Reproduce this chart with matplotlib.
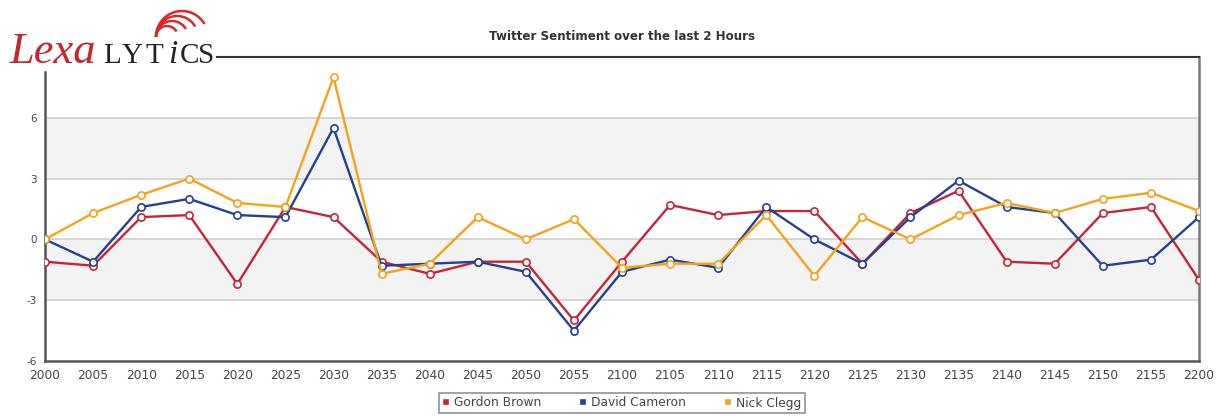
import numpy as np
import matplotlib.pyplot as plt
from matplotlib.patches import Arc

# временные метки (категории по оси X)
times = ['2000', '2005', '2010', '2015', '2020', '2025', '2030', '2035', '2040',
         '2045', '2050', '2055', '2100', '2105', '2110', '2115', '2120', '2125',
         '2130', '2135', '2140', '2145', '2150', '2155', '2200']

gordon_brown = [-1.1, -1.3, 1.1, 1.2, -2.2, 1.6, 1.1, -1.1, -1.7, -1.1, -1.1, -4.0, -1.1,
                1.7, 1.2, 1.4, 1.4, -1.2, 1.3, 2.4, -1.1, -1.2, 1.3, 1.6, -2.0]
david_cameron = [0.0, -1.1, 1.6, 2.0, 1.2, 1.1, 5.5, -1.3, -1.2, -1.1, -1.6, -4.5, -1.6,
                 -1.0, -1.4, 1.6, 0.0, -1.2, 1.1, 2.9, 1.6, 1.3, -1.3, -1.0, 1.1]
nick_clegg = [0.0, 1.3, 2.2, 3.0, 1.8, 1.6, 8.0, -1.7, -1.2, 1.1, 0.0, 1.0, -1.4,
              -1.2, -1.2, 1.2, -1.8, 1.1, 0.0, 1.2, 1.8, 1.3, 2.0, 2.3, 1.4]

y_ticks = [-6, -3, 0, 3, 6]

W, H = 1223, 416
fig = plt.figure(figsize=(W / 100, H / 100), dpi=100)
fig.patch.set_facecolor('white')

ax = fig.add_axes([45 / W, 1 - 361 / H, (1199 - 45) / W, (361 - 57) / H])
x = np.arange(len(times))

# серые полосы и сетка
ax.axhspan(3, 6, color='#f3f3f3', zorder=0)
ax.axhspan(-3, 0, color='#f3f3f3', zorder=0)
for t in y_ticks[1:]:
    ax.axhline(t, color='#cfcfcf', lw=1.2, zorder=1)

series = [
    ('Gordon Brown', gordon_brown, '#c2253a'),
    ('David Cameron', david_cameron, '#25408f'),
    ('Nick Clegg', nick_clegg, '#f2a31b'),
]
for name, vals, col in series:
    ax.plot(x, vals, color=col, lw=1.7, marker='o', ms=5.2, mfc='white',
            mec=col, mew=1.2, zorder=3, label=name)

ax.set_xlim(0, len(times) - 1)
ax.set_ylim(-6, 9)
ax.set_xticks(x)
ax.set_xticklabels(times, fontsize=8.8, color='#444444')
ax.set_yticks(y_ticks)
ax.set_yticklabels([str(t) for t in y_ticks], fontsize=7.5, color='#444444')
ax.tick_params(length=0, pad=6)

for s in ['left', 'bottom', 'right', 'top']:
    ax.spines[s].set_color('#555555')
    ax.spines[s].set_linewidth(1.8)
ax.spines['right'].set_color('#777777')
ax.spines['left'].set_bounds(-6, 8.25)
ax.spines['top'].set_bounds((217 - 45) / ((1199 - 45) / 24), 24)
ax.spines['top'].set_color('#333333')
ax.spines['top'].set_linewidth(1.5)

fig.text(622 / W, 1 - 36 / H, 'Twitter Sentiment over the last 2 Hours',
         ha='center', va='center', fontsize=8.6, fontweight='bold', color='#333333')

leg = ax.legend(loc='center', bbox_to_anchor=(622 / W, 1 - 403 / H),
                bbox_transform=fig.transFigure, ncol=3, frameon=True,
                fontsize=8.8, handlelength=0.5, handletextpad=0.4,
                columnspacing=3.2, borderpad=0.3, fancybox=False)
for h in leg.legend_handles:
    h.set_linestyle('')
    h.set_marker('s')
    h.set_markersize(3.5)
    h.set_markerfacecolor(h.get_color())
for t in leg.get_texts():
    t.set_color('#444444')
leg.get_frame().set_edgecolor('#777777')
leg.get_frame().set_linewidth(1.2)

# логотип
lx = fig.add_axes([0, 0, 1, 1], facecolor='none')
lx.set_xlim(0, W)
lx.set_ylim(H, 0)
lx.axis('off')
lx.text(10, 63, 'Lexa', family='Liberation Serif', style='italic', fontsize=32,
        color='#c4262e', va='baseline', ha='left')
for ch, px, it in [('L', 103, False), ('Y', 122, False), ('T', 146, False),
                   ('i', 168, True), ('C', 180, False), ('S', 198, False)]:
    lx.text(px, 63, ch, family='Liberation Serif', fontsize=21 if not it else 24,
            style='italic' if it else 'normal', color='#222222',
            va='baseline', ha='left')
for r in [11, 16, 21, 26]:
    lx.add_patch(Arc((156 + r, 37), 2 * r, 2 * r, theta1=180, theta2=330,
                     color='#d42a2a', lw=1.8))

fig.savefig('out.png', dpi=100)
